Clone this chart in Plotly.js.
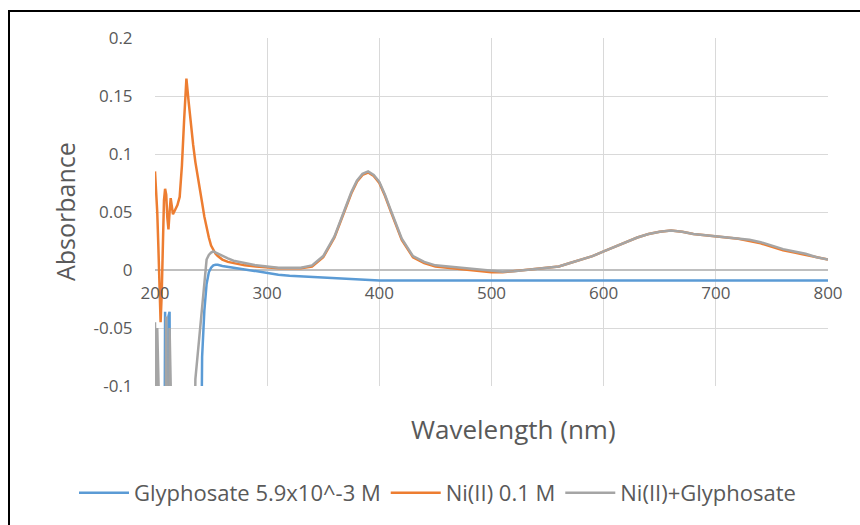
<!DOCTYPE html>
<html>
<head>
<meta charset="utf-8">
<script src="https://cdn.plot.ly/plotly-3.0.1.min.js"></script>
<style>
  html, body { margin: 0; padding: 0; background: #ffffff; }
  #chart { position: absolute; left: 0; top: 0; width: 860px; height: 525px; }
  #frame { position: absolute; left: 8px; top: 10px; width: 900px; height: 600px;
           border-left: 2px solid #000; border-top: 2px solid #000; pointer-events: none; z-index: 5; }
</style>
</head>
<body>
<div id="chart"></div>
<div id="frame"></div>
<script>
// Wavelength grid (nm)
const wavelength = [200,201,202,203,204,205,206,207,208,209,210,211,212,213,214,215,216,218,220,222,224,226,228,230,232,234,236,238,240,242,244,246,248,250,252,254,256,260,265,270,280,290,300,310,320,330,340,350,360,370,375,380,385,390,395,400,405,410,420,430,440,450,460,470,480,490,500,510,520,530,540,550,560,570,580,590,600,610,620,630,640,650,660,670,680,690,700,710,720,730,740,750,760,770,780,790,800];

// Glyphosate 5.9x10^-3 M
const glyphosate = [-0.3,-0.3,-0.3,-0.3,-0.3,-0.3,-0.3,-0.3,-0.3,-0.036,-0.3,-0.3,-0.04,-0.036,-0.3,-0.3,-0.3,-0.3,-0.3,-0.3,-0.3,-0.3,-0.3,-0.3,-0.3,-0.3,-0.3,-0.3,-0.3,-0.075,-0.035,-0.012,-0.002,0.002,0.004,0.0045,0.0045,0.0035,0.003,0.002,0.0005,-0.001,-0.003,-0.004,-0.005,-0.0055,-0.006,-0.007,-0.0075,-0.008,-0.0082,-0.0085,-0.0087,-0.0088,-0.0089,-0.009,-0.009,-0.009,-0.009,-0.009,-0.009,-0.009,-0.009,-0.009,-0.009,-0.009,-0.009,-0.009,-0.009,-0.009,-0.009,-0.009,-0.009,-0.009,-0.009,-0.009,-0.009,-0.009,-0.009,-0.009,-0.009,-0.009,-0.009,-0.009,-0.009,-0.009,-0.009,-0.009,-0.009,-0.009,-0.009,-0.009,-0.009,-0.009,-0.009,-0.009,-0.009];

// Ni(II) 0.1 M
const nickel = [0.085,0.07,0.05,0.02,-0.01,-0.045,-0.02,0.03,0.06,0.07,0.065,0.045,0.035,0.05,0.062,0.055,0.048,0.052,0.056,0.063,0.09,0.13,0.165,0.145,0.125,0.108,0.093,0.08,0.07,0.058,0.046,0.036,0.028,0.021,0.017,0.014,0.012,0.009,0.007,0.006,0.004,0.003,0.002,0.0015,0.0015,0.0015,0.003,0.011,0.028,0.054,0.066,0.076,0.082,0.084,0.081,0.075,0.064,0.051,0.026,0.011,0.006,0.003,0.002,0.001,0.0,-0.001,-0.002,-0.002,-0.001,0.0,0.001,0.002,0.003,0.006,0.009,0.012,0.016,0.02,0.024,0.028,0.031,0.033,0.034,0.033,0.031,0.03,0.029,0.028,0.027,0.025,0.023,0.02,0.017,0.015,0.013,0.011,0.009];

// Ni(II)+Glyphosate
const mixture = [-0.045,-0.15,-0.05,-0.3,-0.3,-0.3,-0.3,-0.3,-0.3,-0.3,-0.04,-0.3,-0.3,-0.05,-0.3,-0.3,-0.3,-0.3,-0.3,-0.3,-0.3,-0.3,-0.3,-0.3,-0.3,-0.3,-0.094,-0.072,-0.051,-0.03,-0.008,0.009,0.013,0.015,0.016,0.015,0.014,0.012,0.01,0.008,0.006,0.004,0.003,0.002,0.002,0.002,0.004,0.012,0.029,0.055,0.067,0.077,0.083,0.085,0.082,0.076,0.065,0.052,0.027,0.012,0.007,0.004,0.003,0.002,0.001,0.0,-0.001,-0.0015,-0.001,0.0,0.001,0.002,0.003,0.006,0.009,0.012,0.016,0.02,0.024,0.028,0.031,0.033,0.034,0.033,0.031,0.03,0.029,0.028,0.027,0.026,0.024,0.021,0.018,0.016,0.014,0.011,0.009];

const seriesNames = ["Glyphosate 5.9x10^-3 M", "Ni(II) 0.1 M", "Ni(II)+Glyphosate"];
const seriesColors = ["#5B9BD5", "#ED7D31", "#A5A5A5"];
const yTickVals = [-0.1, -0.05, 0, 0.05, 0.1, 0.15, 0.2];
const yTickText = ["-0.1", "-0.05", "0", "0.05", "0.1", "0.15", "0.2"];
const xTickVals = [200, 300, 400, 500, 600, 700, 800];

const font = "Open Sans, Noto Sans, sans-serif";
const textColor = "#595959";
const seriesData = [glyphosate, nickel, mixture];

const traces = seriesData.map((vals, i) => ({
  type: "scatter",
  mode: "lines",
  x: wavelength,
  y: vals,
  name: seriesNames[i],
  line: { color: seriesColors[i], width: 2.5 },
  cliponaxis: true
}));

const layout = {
  width: 860,
  height: 525,
  margin: { l: 155, r: 32, t: 38, b: 138 },
  paper_bgcolor: "#ffffff",
  plot_bgcolor: "#ffffff",
  showlegend: true,
  font: { family: font, color: textColor },
  xaxis: {
    range: [200, 800],
    tickvals: xTickVals,
    ticktext: xTickVals.map(String),
    showgrid: true,
    gridcolor: "#d9d9d9",
    gridwidth: 1,
    zeroline: false,
    showline: false,
    anchor: "free",
    position: 1 / 3,
    ticks: "outside",
    ticklen: 8,
    tickcolor: "rgba(0,0,0,0)",
    tickfont: { family: font, size: 17, color: textColor },
    automargin: false
  },
  yaxis: {
    range: [-0.1, 0.2],
    tickvals: yTickVals,
    ticktext: yTickText,
    showgrid: true,
    gridcolor: "#d9d9d9",
    gridwidth: 1,
    zeroline: true,
    zerolinecolor: "#bfbfbf",
    zerolinewidth: 1.5,
    showline: false,
    ticks: "outside",
    ticklen: 18,
    tickcolor: "rgba(0,0,0,0)",
    tickfont: { family: font, size: 17, color: textColor },
    automargin: false
  },
  legend: {
    orientation: "h",
    xref: "paper",
    yref: "paper",
    x: (74 - 155) / 673,
    xanchor: "left",
    y: (387 - 493) / 349,
    yanchor: "middle",
    font: { family: font, size: 22, color: textColor },
    itemwidth: 50,
    bgcolor: "rgba(0,0,0,0)"
  },
  annotations: [
    {
      text: "Absorbance",
      xref: "paper", yref: "paper",
      x: (65 - 155) / 673, y: 0.5,
      xanchor: "center", yanchor: "middle",
      textangle: -90,
      showarrow: false,
      font: { family: font, size: 25, color: textColor }
    },
    {
      text: "Wavelength (nm)",
      xref: "paper", yref: "paper",
      x: (513 - 155) / 673, y: (387 - 430) / 349,
      xanchor: "center", yanchor: "middle",
      showarrow: false,
      font: { family: font, size: 26, color: textColor }
    }
  ]
};

Plotly.newPlot("chart", traces, layout, { displayModeBar: false, staticPlot: true });
</script>
</body>
</html>
